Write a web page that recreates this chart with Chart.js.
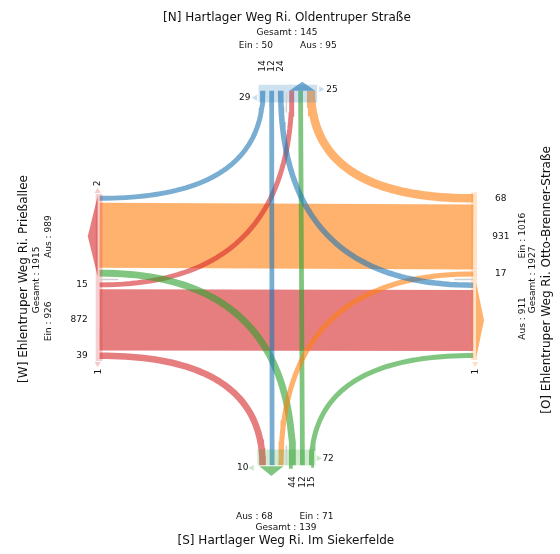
<!DOCTYPE html>
<html>
<head>
<meta charset="utf-8">
<script src="https://cdn.jsdelivr.net/npm/chart.js@4.4.0/dist/chart.umd.min.js"></script>
<style>
  html, body { margin: 0; padding: 0; background: #fff; }
  canvas { display: block; }
</style>
</head>
<body>
<canvas id="myChart" width="560" height="554"></canvas>
<script>
  // Zufahrten im Uhrzeigersinn: N, O, S, W
  var armKeys = ['N', 'O', 'S', 'W'];
  var armTitles = [
    '[N] Hartlager Weg Ri. Oldentruper Straße',
    '[O] Ehlentruper Weg Ri. Otto-Brenner-Straße',
    '[S] Hartlager Weg Ri. Im Siekerfelde',
    '[W] Ehlentruper Weg Ri. Prießallee'
  ];
  var armColors = ['31,119,180', '255,127,14', '44,160,44', '214,39,40'];

  // Stroeme je Zufahrt: [rechts, geradeaus, links]
  var fromN = [14, 12, 24];
  var fromO = [68, 931, 17];
  var fromS = [15, 12, 44];
  var fromW = [39, 872, 15];

  // Querverkehr an den Zufahrten (erste / zweite Richtung)
  var crossN = [29, 25];
  var crossO = [0, 1];
  var crossS = [10, 72];
  var crossW = [2, 1];

  var flows = [fromN, fromO, fromS, fromW];

  // Geometrie der Zufahrten (Pixelraum der Achsen)
  var DIV_X = 286.5, DIV_Y = 279.5;
  var geo = [
    { vertical: true,  end: 88,  div: DIV_X, ein: -1, gap: 4 },   // N
    { vertical: false, end: 476, div: DIV_Y, ein: -1, gap: 2.5 }, // O
    { vertical: true,  end: 468, div: DIV_X, ein: 1,  gap: 4 },   // S
    { vertical: false, end: 97,  div: DIV_Y, ein: 1,  gap: 2.5 }  // W
  ];

  function widthOf(v) { return 4 + v * 0.0655; }

  function stack(g, sign, vals) {
    var off = 3, out = [];
    vals.forEach(function (v) {
      var w = widthOf(v);
      out.push({ c: g.div + sign * (off + w / 2), w: w,
                 a: g.div + sign * off, b: g.div + sign * (off + w) });
      off += w + g.gap;
    });
    return out;
  }
  function pt(i, pos) {
    return geo[i].vertical ? { x: pos, y: geo[i].end } : { x: geo[i].end, y: pos };
  }

  // Fahrstreifen: innen -> aussen (links, geradeaus, rechts)
  var einSlots = [], ausSlots = [];
  for (var i = 0; i < 4; i++) {
    var f = flows[i];
    einSlots.push(stack(geo[i], geo[i].ein, [f[2], f[1], f[0]]));
    ausSlots.push(stack(geo[i], -geo[i].ein, [
      flows[(i + 3) % 4][2], flows[(i + 2) % 4][1], flows[(i + 1) % 4][0]
    ]));
  }

  var datasets = [];

  // Stroeme
  for (var i = 0; i < 4; i++) {
    for (var k = 0; k < 3; k++) {
      var v = flows[i][k];
      var j = (i + 3) % 4;              // rechts
      if (k === 1) j = (i + 2) % 4;     // geradeaus
      if (k === 2) j = (i + 1) % 4;     // links
      var s0 = einSlots[i][2 - k], s1 = ausSlots[j][2 - k];
      var p0 = pt(i, s0.c), p2 = pt(j, s1.c);
      var pts;
      if (k === 1) {
        pts = [p0, p2];
      } else {
        var vp = geo[i].vertical ? p0 : p2, hp = geo[i].vertical ? p2 : p0;
        var c = { x: vp.x, y: hp.y };
        pts = [];
        for (var t = 0; t <= 48; t++) {
          var u = t / 48;
          pts.push({
            x: (1 - u) * (1 - u) * p0.x + 2 * u * (1 - u) * c.x + u * u * p2.x,
            y: (1 - u) * (1 - u) * p0.y + 2 * u * (1 - u) * c.y + u * u * p2.y
          });
        }
      }
      datasets.push({
        data: pts, borderColor: 'rgba(' + armColors[i] + ',0.6)',
        borderWidth: widthOf(v), pointRadius: 0, fill: false, tension: 0,
        borderCapStyle: 'butt', order: v > 200 ? 60 : 50
      });
    }
  }

  function poly(p, color, order) {
    return { data: p.concat([p[0]]), showLine: true, fill: 'shape', backgroundColor: color,
             borderWidth: 0, borderColor: 'rgba(0,0,0,0)', pointRadius: 0, tension: 0, order: order };
  }

  // Zufahrtsbalken, Trennlinien und Richtungspfeile
  for (var i = 0; i < 4; i++) {
    var g = geo[i];
    var all = einSlots[i].concat(ausSlots[i]);
    var lo = Math.min.apply(null, all.map(function (s) { return Math.min(s.a, s.b); })) - 2;
    var hi = Math.max.apply(null, all.map(function (s) { return Math.max(s.a, s.b); })) + 2;
    var light = 'rgba(' + armColors[i] + ',0.22)';
    var box, line, arrow;
    var aus = ausSlots[i];
    var aLo = Math.min(aus[0].a, aus[2].b), aHi = Math.max(aus[0].a, aus[2].b), aMid = (aLo + aHi) / 2;
    if (g.vertical) {
      var y0 = i === 0 ? 82 : 452, y1 = i === 0 ? 100 : 468;
      box = [{ x: lo, y: y0 }, { x: hi, y: y0 }, { x: hi, y: y1 }, { x: lo, y: y1 }];
      line = i === 0 ? [{ x: g.div, y: 90 }, { x: g.div, y: 110 }] : [{ x: g.div, y: 448 }, { x: g.div, y: 468 }];
      arrow = i === 0
        ? [{ x: aLo, y: 88 }, { x: aMid, y: 79 }, { x: aHi, y: 88 }]
        : [{ x: aLo, y: 469 }, { x: aMid, y: 479 }, { x: aHi, y: 469 }];
    } else {
      var x0 = i === 3 ? 93 : 474, x1 = i === 3 ? 100 : 480;
      box = [{ x: x0, y: lo }, { x: x1, y: lo }, { x: x1, y: hi }, { x: x0, y: hi }];
      line = i === 3 ? [{ x: 97, y: g.div }, { x: 116, y: g.div }] : [{ x: 457, y: g.div }, { x: 476, y: g.div }];
      arrow = i === 3
        ? [{ x: 95, y: aLo }, { x: 85, y: aMid }, { x: 95, y: aHi }]
        : [{ x: 479, y: aLo }, { x: 487, y: aMid }, { x: 479, y: aHi }];
    }
    datasets.push(poly(box, light, 30));
    datasets.push({ data: line, borderColor: '#d0d0d0', borderWidth: 1.5, pointRadius: 0, fill: false, order: 25 });
    datasets.push(poly(arrow, 'rgba(' + armColors[i] + ',0.6)', 20));
  }

  // Querverkehr: kleine Dreiecke
  var crossPts = [
    { arm: 0, v: crossN[0], x: 255, y: 95, rot: 270 },
    { arm: 0, v: crossN[1], x: 321.5, y: 86.5, rot: 90 },
    { arm: 2, v: crossS[0], x: 251.5, y: 470.5, rot: 270 },
    { arm: 2, v: crossS[1], x: 319, y: 461, rot: 90 },
    { arm: 3, v: crossW[0], x: 95, y: 190, rot: 0 },
    { arm: 3, v: crossW[1], x: 95, y: 365, rot: 180 },
    { arm: 1, v: crossO[0], x: 478, y: 190, rot: 0 },
    { arm: 1, v: crossO[1], x: 478, y: 365, rot: 180 }
  ].filter(function (c) { return c.v > 0; });
  crossPts.forEach(function (c) {
    datasets.push({
      data: [{ x: c.x, y: c.y }], showLine: false, pointStyle: 'triangle', rotation: c.rot,
      pointRadius: 3.5, backgroundColor: 'rgba(' + armColors[c.arm] + ',0.25)', borderWidth: 0, order: 10
    });
  });

  // Beschriftungen
  function sum(a) { return a.reduce(function (s, x) { return s + x; }, 0); }
  var einTot = flows.map(sum);
  var ausTot = [0, 1, 2, 3].map(function (j) {
    return flows[(j + 3) % 4][2] + flows[(j + 2) % 4][1] + flows[(j + 1) % 4][0];
  });
  var S = 9, T = 12;
  var texts = [
    { text: armTitles[0], x: 287, y: 14.5, size: T },
    { text: 'Gesamt : ' + (einTot[0] + ausTot[0]), x: 287, y: 29.5, size: S },
    { text: 'Ein : ' + einTot[0], x: 255.5, y: 42, size: S },
    { text: 'Aus : ' + ausTot[0], x: 319, y: 42, size: S },
    { text: 'Aus : ' + ausTot[2], x: 254, y: 520, size: S },
    { text: 'Ein : ' + einTot[2], x: 317, y: 520, size: S },
    { text: 'Gesamt : ' + (einTot[2] + ausTot[2]), x: 286, y: 531, size: S },
    { text: armTitles[2], x: 286, y: 545, size: T },
    { text: armTitles[3], x: 20, y: 279, size: T, rot: -90 },
    { text: 'Gesamt : ' + (einTot[3] + ausTot[3]), x: 33.5, y: 280, size: S, rot: -90 },
    { text: 'Ein : ' + einTot[3], x: 45, y: 322, size: S, rot: -90 },
    { text: 'Aus : ' + ausTot[3], x: 45, y: 236, size: S, rot: -90 },
    { text: armTitles[1], x: 551, y: 280, size: T, rot: -90 },
    { text: 'Gesamt : ' + (einTot[1] + ausTot[1]), x: 536, y: 280, size: S, rot: -90 },
    { text: 'Ein : ' + einTot[1], x: 526, y: 235, size: S, rot: -90 },
    { text: 'Aus : ' + ausTot[1], x: 526, y: 319, size: S, rot: -90 }
  ];
  for (var k = 0; k < 3; k++) {
    var sN = einSlots[0][2 - k], sS = einSlots[2][2 - k], sW = einSlots[3][2 - k], sO = einSlots[1][2 - k];
    texts.push({ text: String(fromN[k]), x: sN.c - 0.5, y: 63, size: S, rot: -90 });
    texts.push({ text: String(fromS[k]), x: sS.c, y: 485, size: S, rot: -90 });
    texts.push({ text: String(fromW[k]), x: 85, y: sW.c, size: S, align: 'right' });
    texts.push({ text: String(fromO[k]), x: 504, y: sO.c, size: S });
  }
  var crossTexts = [
    { v: crossN[0], x: 250, y: 95, align: 'right' },
    { v: crossN[1], x: 327, y: 86.5, align: 'left' },
    { v: crossS[0], x: 248, y: 470.5, align: 'right' },
    { v: crossS[1], x: 323, y: 461, align: 'left' },
    { v: crossW[0], x: 95, y: 182, rot: -90 },
    { v: crossW[1], x: 96, y: 373, rot: -90 },
    { v: crossO[0], x: 478, y: 182, rot: -90 },
    { v: crossO[1], x: 478, y: 373, rot: -90 }
  ];
  crossTexts.forEach(function (c) {
    if (c.v > 0) texts.push({ text: String(c.v), x: c.x, y: c.y, size: S, align: c.align, rot: c.rot });
  });

  var textPlugin = {
    id: 'texte',
    afterDatasetsDraw: function (chart) {
      var ctx = chart.ctx, sx = chart.scales.x, sy = chart.scales.y;
      texts.forEach(function (t) {
        ctx.save();
        ctx.translate(sx.getPixelForValue(t.x), sy.getPixelForValue(t.y));
        if (t.rot) ctx.rotate(t.rot * Math.PI / 180);
        ctx.font = t.size + 'px "DejaVu Sans"';
        ctx.fillStyle = '#111';
        ctx.textAlign = t.align || 'center';
        ctx.textBaseline = 'middle';
        ctx.fillText(t.text, 0, 0);
        ctx.restore();
      });
    }
  };

  var ctx = document.getElementById('myChart').getContext('2d');
  var chart = new Chart(ctx, {
    type: 'line',
    data: { datasets: datasets },
    options: {
      responsive: false,
      animation: false,
      devicePixelRatio: 1,
      layout: { padding: 0 },
      plugins: { legend: { display: false }, tooltip: { enabled: false }, title: { display: false } },
      scales: {
        x: { type: 'linear', min: 0, max: 560, display: false },
        y: { type: 'linear', min: 0, max: 554, reverse: true, display: false }
      }
    },
    plugins: [textPlugin]
  });
</script>
</body>
</html>
